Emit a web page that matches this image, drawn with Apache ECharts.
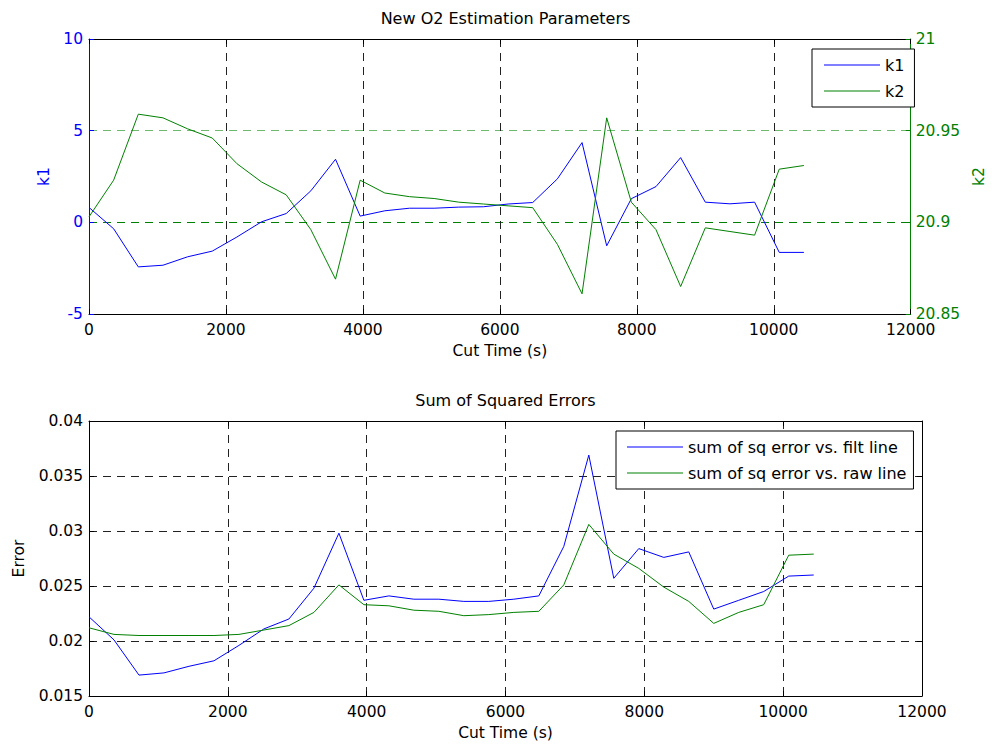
<!DOCTYPE html>
<html>
<head>
<meta charset="utf-8">
<title>O2 Estimation</title>
<script src="https://cdn.jsdelivr.net/npm/echarts@6/dist/echarts.min.js"></script>
<style>
  html, body { margin: 0; padding: 0; background: #fff; }
  #chart { width: 995px; height: 749px; }
</style>
</head>
<body>
<div id="chart"></div>
<script>
// Cut times (s) shared by both panels
const cutTimes = [0, 360, 720, 1080, 1440, 1800, 2160, 2520, 2880, 3240,
  3600, 3960, 4320, 4680, 5040, 5400, 5760, 6120, 6480, 6840,
  7200, 7560, 7920, 8280, 8640, 9000, 9360, 9720, 10080, 10440];

// Estimation parameters
const k1Values = [0.81, -0.35, -2.43, -2.34, -1.88, -1.57, -0.80, 0.03, 0.48, 1.72,
  3.44, 0.34, 0.63, 0.77, 0.77, 0.83, 0.85, 1.00, 1.08, 2.37,
  4.35, -1.28, 1.29, 1.95, 3.53, 1.10, 1.01, 1.10, -1.64, -1.64];
const k2Values = [20.903, 20.923, 20.959, 20.957, 20.951, 20.946, 20.932, 20.922, 20.915, 20.896,
  20.869, 20.923, 20.916, 20.914, 20.913, 20.911, 20.910, 20.909, 20.908, 20.888,
  20.861, 20.957, 20.911, 20.896, 20.865, 20.897, 20.895, 20.893, 20.929, 20.931];

// Sum of squared errors
const sseFilt = [0.0222, 0.0201, 0.0169, 0.0171, 0.0177, 0.0182, 0.0196, 0.0211, 0.0220, 0.0248,
  0.0298, 0.0237, 0.0241, 0.0238, 0.0238, 0.0236, 0.0236, 0.0238, 0.0241, 0.0286,
  0.0369, 0.0257, 0.0284, 0.0276, 0.0281, 0.0229, 0.0237, 0.0245, 0.0259, 0.0260];
const sseRaw = [0.0212, 0.0206, 0.0205, 0.0205, 0.0205, 0.0205, 0.0206, 0.0210, 0.0214, 0.0226,
  0.0251, 0.0233, 0.0232, 0.0228, 0.0227, 0.0223, 0.0224, 0.0226, 0.0227, 0.0251,
  0.0306, 0.0279, 0.0266, 0.0249, 0.0236, 0.0216, 0.0226, 0.0233, 0.0278, 0.0279];

// Axis ranges and labels
const timeTicks = [0, 2000, 4000, 6000, 8000, 10000, 12000];
const k1Ticks = [-5, 0, 5, 10];
const k2Ticks = [20.85, 20.9, 20.95, 21];
const errTicks = [0.015, 0.02, 0.025, 0.03, 0.035, 0.04];

const titles = ['New O2 Estimation Parameters', 'Sum of Squared Errors'];
const xName = 'Cut Time (s)';

const FONT = '"DejaVu Sans", Verdana, sans-serif';
const TICK_SIZE = 15.5;
const BLUE = '#0000ff';
const GREEN = '#008000';
const BLACK = '#000000';
const DASH = [8, 6];

function pair(xs, ys) { return xs.map((x, i) => [x, ys[i]]); }
function trimNum(v, d) { return String(parseFloat(v.toFixed(d))); }

const gridBox = [
  { left: 89, top: 39, width: 833, height: 275 },
  { left: 89, top: 421, width: 833, height: 275 }
];

function timeAxis(gridIndex, bottom) {
  return {
    type: 'value', gridIndex: gridIndex,
    position: bottom ? 'bottom' : 'top',
    min: timeTicks[0], max: timeTicks[timeTicks.length - 1],
    interval: timeTicks[1] - timeTicks[0],
    name: bottom ? xName : '', nameLocation: 'middle', nameGap: 29,
    nameTextStyle: { color: BLACK, fontSize: TICK_SIZE, fontFamily: FONT },
    axisLine: { show: true, onZero: false, lineStyle: { color: BLACK, width: 1 } },
    axisTick: { show: true, inside: true, length: 5, lineStyle: { color: BLACK } },
    axisLabel: { show: bottom, color: BLACK, fontSize: TICK_SIZE, fontFamily: FONT, margin: 8,
      formatter: v => String(v) },
    splitLine: {
      show: bottom, showMinLine: false, showMaxLine: false,
      lineStyle: { color: '#222', type: DASH, width: 1 }
    }
  };
}

function legendBox(names, left, top, padding) {
  return {
    data: names.map(n => ({ name: n, icon: 'rect' })),
    orient: 'vertical', left: left, top: top,
    padding: padding, itemWidth: 56, itemHeight: 1, itemGap: 10,
    borderColor: BLACK, borderWidth: 1, backgroundColor: '#fff',
    textStyle: { color: BLACK, fontSize: 16, fontFamily: FONT },
    selectedMode: false
  };
}

const chart = echarts.init(document.getElementById('chart'), null, { renderer: 'svg' });

chart.setOption({
  animation: false,
  backgroundColor: '#fff',
  textStyle: { fontFamily: FONT },
  graphic: [
    { type: 'text', x: 505.5, y: 18.5, z: 10,
      style: { text: titles[0], font: '16px ' + FONT, fill: BLACK, align: 'center', verticalAlign: 'middle' } },
    { type: 'text', x: 505.5, y: 400, z: 10,
      style: { text: titles[1], font: '16px ' + FONT, fill: BLACK, align: 'center', verticalAlign: 'middle' } }
  ],
  grid: gridBox.map(g => Object.assign({ containLabel: false }, g)),
  xAxis: [timeAxis(0, true), timeAxis(1, true), timeAxis(0, false), timeAxis(1, false)],
  yAxis: [
    {
      type: 'value', gridIndex: 0, position: 'left',
      min: k1Ticks[0], max: k1Ticks[k1Ticks.length - 1], interval: k1Ticks[1] - k1Ticks[0],
      name: 'k1', nameLocation: 'middle', nameRotate: 90, nameGap: 36,
      nameTextStyle: { color: BLUE, fontSize: TICK_SIZE, fontFamily: FONT },
      axisLine: { show: true, onZero: false, lineStyle: { color: BLUE, width: 1 } },
      axisTick: { show: true, inside: true, length: 5, lineStyle: { color: BLUE } },
      axisLabel: { color: BLUE, fontSize: TICK_SIZE, fontFamily: FONT, margin: 6 },
      splitLine: { show: false }
    },
    {
      type: 'value', gridIndex: 0, position: 'right',
      min: k2Ticks[0], max: k2Ticks[k2Ticks.length - 1],
      interval: 0.05,
      name: 'k2', nameLocation: 'middle', nameRotate: 90, nameGap: 53,
      nameTextStyle: { color: GREEN, fontSize: TICK_SIZE, fontFamily: FONT },
      axisLine: { show: true, onZero: false, lineStyle: { color: GREEN, width: 1 } },
      axisTick: { show: true, inside: true, length: 5, lineStyle: { color: GREEN } },
      axisLabel: { color: GREEN, fontSize: TICK_SIZE, fontFamily: FONT, margin: 5,
        formatter: v => trimNum(v, 2) },
      splitLine: {
        show: true, showMinLine: false, showMaxLine: false,
        lineStyle: { color: [GREEN, '#6fb86f'], type: DASH, width: 1 }
      }
    },
    {
      type: 'value', gridIndex: 1, position: 'left',
      min: errTicks[0], max: errTicks[errTicks.length - 1], interval: 0.005,
      name: 'Error', nameLocation: 'middle', nameRotate: 90, nameGap: 62,
      nameTextStyle: { color: BLACK, fontSize: TICK_SIZE, fontFamily: FONT },
      axisLine: { show: true, onZero: false, lineStyle: { color: BLACK, width: 1 } },
      axisTick: { show: true, inside: true, length: 5, lineStyle: { color: BLACK } },
      axisLabel: { color: BLACK, fontSize: TICK_SIZE, fontFamily: FONT, margin: 6,
        formatter: v => trimNum(v, 3) },
      splitLine: {
        show: true, showMinLine: false, showMaxLine: false,
        lineStyle: { color: '#222', type: DASH, width: 1 }
      }
    },
    {
      type: 'value', gridIndex: 1, position: 'right',
      min: errTicks[0], max: errTicks[errTicks.length - 1], interval: 0.005,
      axisLine: { show: true, onZero: false, lineStyle: { color: BLACK, width: 1 } },
      axisTick: { show: true, inside: true, length: 5, lineStyle: { color: BLACK } },
      axisLabel: { show: false },
      splitLine: { show: false }
    }
  ],
  legend: [
    legendBox(['k1', 'k2'], 812, 49, [8, 10, 8, 12]),
    legendBox(['sum of sq error vs. filt line', 'sum of sq error vs. raw line'], 616, 431, [8, 7, 8, 11])
  ],
  series: [
    { name: 'k1', type: 'line', xAxisIndex: 0, yAxisIndex: 0, data: pair(cutTimes, k1Values),
      symbol: 'none', color: BLUE, lineStyle: { color: BLUE, width: 1 } },
    { name: 'k2', type: 'line', xAxisIndex: 0, yAxisIndex: 1, data: pair(cutTimes, k2Values),
      symbol: 'none', color: GREEN, lineStyle: { color: GREEN, width: 1 } },
    { name: 'sum of sq error vs. filt line', type: 'line', xAxisIndex: 1, yAxisIndex: 2,
      data: pair(cutTimes, sseFilt), symbol: 'none', color: BLUE, lineStyle: { color: BLUE, width: 1 } },
    { name: 'sum of sq error vs. raw line', type: 'line', xAxisIndex: 1, yAxisIndex: 2,
      data: pair(cutTimes, sseRaw), symbol: 'none', color: GREEN, lineStyle: { color: GREEN, width: 1 } }
  ]
});
</script>
</body>
</html>
